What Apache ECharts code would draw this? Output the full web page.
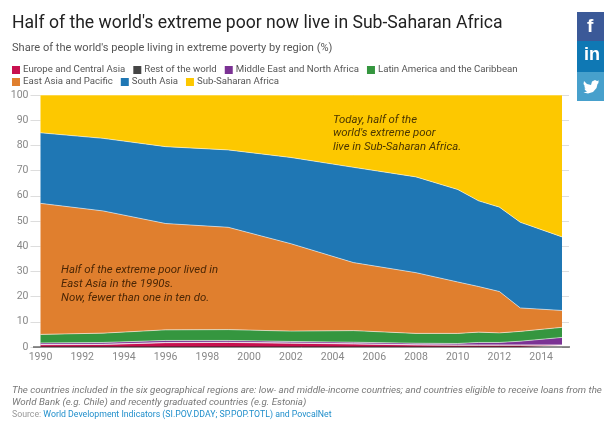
<!DOCTYPE html>
<html><head><meta charset="utf-8">
<script src="https://cdn.jsdelivr.net/npm/echarts@6/dist/echarts.min.js"></script>
<style>html,body{margin:0;padding:0;background:#fff}#c{width:613px;height:430px}</style>
</head><body><div id="c"></div>
<script>
const years = [1990,1993,1996,1999,2002,2005,2008,2010,2011,2012,2013,2015];
const europe = [0.9,1.0,1.7,1.8,1.5,1.2,0.8,0.7,0.7,0.7,0.7,0.7];
const rest = [0.1,0.1,0.1,0.1,0.1,0.1,0.1,0.1,0.1,0.1,0.1,0.1];
const mena = [0.6,0.7,0.8,0.7,0.6,0.6,0.6,0.6,1.0,1.0,1.5,3.0];
const latam = [3.4,3.7,4.2,4.3,4.1,4.6,3.9,4.0,4.1,3.8,3.9,4.0];
const eap = [52.0,48.5,42.2,40.6,34.7,27.0,24.1,20.4,18.1,16.4,9.3,6.7];
const southAsia = [28.0,28.8,30.5,30.7,34.2,37.8,38.0,36.7,34.0,33.5,34.0,29.2];
const ssa = [15.0,17.2,20.5,21.8,24.8,28.7,32.5,37.5,42.0,44.5,50.5,56.3];
const names = ['Europe and Central Asia','Rest of the world','Middle East and North Africa','Latin America and the Caribbean','East Asia and Pacific','South Asia','Sub-Saharan Africa'];
const colors = ['#c8104f','#454545','#7b3294','#35963f','#e07f2e','#1f77b4','#fdc800'];
const values = [europe,rest,mena,latam,eap,southAsia,ssa];
const F = 'Roboto, sans-serif';
const chart = echarts.init(document.getElementById('c'));
const legendBase = {icon:'rect',itemWidth:8,itemHeight:8,itemGap:8,padding:0,textStyle:{fontFamily:F,fontSize:9.65,color:'#555',padding:[0,0,0,-2]}};
chart.setOption({
  animation:false,
  color:colors,
  title:[
    {text:"Half of the world's extreme poor now live in Sub-Saharan Africa",left:12,top:15,padding:0,textStyle:{fontFamily:F,fontSize:17.6,fontWeight:400,color:'#222'}},
    {text:"Share of the world's people living in extreme poverty by region (%)",left:12,top:43,padding:0,textStyle:{fontFamily:F,fontSize:11.06,fontWeight:400,color:'#555'}}
  ],
  legend:[
    Object.assign({},legendBase,{left:12,top:65,data:names.slice(0,4)}),
    Object.assign({},legendBase,{left:12,top:77,data:names.slice(4)})
  ],
  grid:{left:40.5,right:51,top:95,bottom:83},
  xAxis:{type:'value',min:1990,max:2015,interval:2,splitLine:{show:false},axisTick:{show:false},
    axisLine:{show:false},
    axisLabel:{fontFamily:F,fontSize:10.5,color:'#888',margin:5,showMaxLabel:false,formatter:v=>String(v)}},
  yAxis:[
    {type:'value',min:0,max:100,interval:10,splitLine:{show:false},axisLine:{show:false},
     axisTick:{show:true,length:10,lineStyle:{color:'#ddd'}},
     axisLabel:{fontFamily:F,fontSize:10.5,color:'#888',margin:12}},
    {type:'value',min:0,max:100,interval:10,position:'right',splitLine:{show:false},axisLine:{show:false},
     axisTick:{show:true,length:7,lineStyle:{color:'#ddd'}},axisLabel:{show:false}}
  ],
  series:names.map((n,i)=>({
    name:n,type:'line',stack:'total',symbol:'none',smooth:false,
    encode:{x:1,y:0},
    data:years.map((y,k)=>[values[i][k],y]),
    lineStyle:{width:1,color:'rgba(255,255,255,0.55)'},
    areaStyle:{color:colors[i],opacity:1},
    itemStyle:{color:colors[i]}
  })),
  graphic:[
    {type:'line',z:50,shape:{x1:33,y1:347,x2:570,y2:347},style:{stroke:'#222',lineWidth:1}},
    {type:'text',z:50,x:333,y:113,style:{text:"Today, half of the\nworld's extreme poor\nlive in Sub-Saharan Africa.",fontFamily:F,fontStyle:'italic',fontSize:11.4,lineHeight:13.7,fill:'#4a3500'}},
    {type:'text',z:50,x:61,y:263,style:{text:"Half of the extreme poor lived in\nEast Asia in the 1990s.\nNow, fewer than one in ten do.",fontFamily:F,fontStyle:'italic',fontSize:11.4,lineHeight:14,fill:'#4a2605'}},
    {type:'text',x:12,y:384,style:{text:"The countries included in the six geographical regions are: low- and middle-income countries; and countries eligible to receive loans from the\nWorld Bank (e.g. Chile) and recently graduated countries (e.g. Estonia)",fontFamily:F,fontStyle:'italic',fontSize:9.77,lineHeight:12.5,fill:'#777'}},
    {type:'text',x:12,y:410,style:{rich:{a:{fontFamily:F,fontSize:8.74,fill:'#999'},b:{fontFamily:F,fontSize:8.74,fill:'#1f8ecb'}},text:"{a|Source: }{b|World Development Indicators (SI.POV.DDAY; SP.POP.TOTL) and PovcalNet}"}},
    {type:'rect',shape:{x:577,y:12,width:27,height:29},style:{fill:'#3b5998'}},
    {type:'rect',shape:{x:577,y:41,width:27,height:31},style:{fill:'#0f78b4'}},
    {type:'rect',shape:{x:577,y:72,width:27,height:29},style:{fill:'#47a0cc'}},
    {type:'text',x:587,y:17,style:{text:'f',fontFamily:'Liberation Sans',fontWeight:'bold',fontSize:19,fill:'#fff'}},
    {type:'text',x:584,y:46,style:{text:'in',fontFamily:'Liberation Sans',fontWeight:'bold',fontSize:18,fill:'#fff'}},
    {type:'polygon',shape:{points:[[584,81],[587,84],[591,85],[592,81.5],[595,80],[597,81],[599,80.5],[598,82.5],[599,82.5],[597.5,84],[596.5,88],[593,92],[588,93.5],[583.5,92.5],[587,91.5],[585,90],[584.5,88.5],[585.5,88.5],[584,86.5],[585,86.5],[583.5,84]]},style:{fill:'#fff'}}
  ]
});
</script></body></html>
